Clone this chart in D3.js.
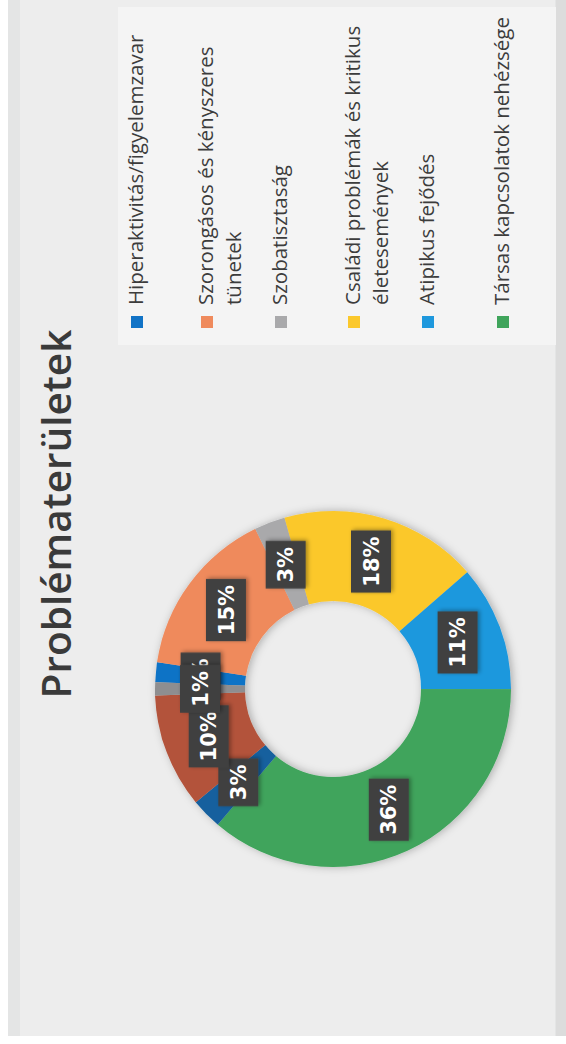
<!DOCTYPE html>
<html>
<head>
<meta charset="utf-8">
<script src="https://cdn.jsdelivr.net/npm/d3@7"></script>
<style>
  html, body { margin: 0; padding: 0; background: #ffffff; }
  svg { display: block; }
</style>
</head>
<body>
<svg id="chart" width="566" height="1044"></svg>
<script>
// ---- data ----
const title = "Problématerületek";
const categories = [
  "Hiperaktivitás/figyelemzavar",
  "Szorongásos és kényszeres tünetek",
  "Szobatisztaság",
  "Családi problémák és kritikus életesemények",
  "Atipikus fejődés",
  "Társas kapcsolatok nehézsége",
  "Egyéb 1",
  "Egyéb 2",
  "Egyéb 3"
];
const values = [1.8, 15.4, 2.8, 18.0, 11.4, 36.2, 2.8, 10.4, 1.2];
const valueLabels = ["1%", "15%", "3%", "18%", "11%", "36%", "3%", "10%", "1%"];
const colors = ["#1173c6", "#ef8a5c", "#a9a9ab", "#fbc82c", "#1e98dd", "#3fa45b", "#15609e", "#b3523a", "#8e8e90"];
const legendLines = [
  ["Hiperaktivitás/figyelemzavar"],
  ["Szorongásos és kényszeres", "tünetek"],
  ["Szobatisztaság"],
  ["Családi problémák és kritikus", "életesemények"],
  ["Atipikus fejődés"],
  ["Társas kapcsolatok nehézsége"]
];

// ---- layout (original, unrotated slide coordinates) ----
const W = 1044, H = 566;
const svg = d3.select("#chart");

const defs = svg.append("defs");
const sh = defs.append("filter").attr("id", "shadow").attr("x", "-20%").attr("y", "-20%").attr("width", "140%").attr("height", "140%");
sh.append("feDropShadow").attr("dx", 0).attr("dy", 2).attr("stdDeviation", 4).attr("flood-color", "#000").attr("flood-opacity", 0.28);
const sh2 = defs.append("filter").attr("id", "boxshadow").attr("x", "-30%").attr("y", "-30%").attr("width", "160%").attr("height", "160%");
sh2.append("feDropShadow").attr("dx", 1).attr("dy", 2).attr("stdDeviation", 2).attr("flood-color", "#000").attr("flood-opacity", 0.35);

const g = svg.append("g").attr("transform", `translate(0,${W}) rotate(-90)`);

// background (photo of slide)
g.append("rect").attr("x", 0).attr("y", 0).attr("width", W).attr("height", H).attr("fill", "#ffffff");
g.append("rect").attr("x", 8).attr("y", 8).attr("width", W - 8).attr("height", H - 8).attr("fill", "#e4e5e5");
g.append("rect").attr("x", 8).attr("y", 20).attr("width", W - 8).attr("height", 535).attr("fill", "#ededed");
g.append("rect").attr("x", 699).attr("y", 118).attr("width", 338).attr("height", 440).attr("fill", "#f4f4f4");
g.append("rect").attr("x", 8).attr("y", 556).attr("width", W - 8).attr("height", 10).attr("fill", "#dcdcdc");

// title
g.append("text")
  .attr("x", 530).attr("y", 71)
  .attr("text-anchor", "middle")
  .attr("font-family", "'Open Sans', sans-serif")
  .attr("font-weight", 600)
  .attr("font-size", 40.5)
  .attr("fill", "#3a3a3a")
  .text(title);

// donut
const cx = 355, cy = 333, R = 178, r0 = 88;
const startDeg = 2.2;
const pie = d3.pie().sort(null).value(d => d)
  .startAngle(startDeg * Math.PI / 180)
  .endAngle((startDeg + 360) * Math.PI / 180);
const arcs = pie(values);
const arc = d3.arc().innerRadius(r0).outerRadius(R);

const dg = g.append("g").attr("transform", `translate(${cx},${cy})`);
dg.append("g").attr("filter", "url(#shadow)")
  .selectAll("path").data(arcs).join("path")
  .attr("d", arc)
  .attr("fill", (d, i) => colors[i]);

// data labels
const lg = dg.append("g");
arcs.forEach((d, i) => {
  const [x, y] = arc.centroid(d);
  const grp = lg.append("g").attr("transform", `translate(${x},${y})`);
  const rect = grp.append("rect").attr("fill", "#414141").attr("filter", "url(#boxshadow)");
  const t = grp.append("text")
    .attr("text-anchor", "middle")
    .attr("dy", "0.36em")
    .attr("font-family", "'DejaVu Sans', sans-serif")
    .attr("font-weight", "bold")
    .attr("font-size", 21)
    .attr("fill", "#ffffff")
    .text(valueLabels[i]);
  const w = t.node().getComputedTextLength() + 12;
  const h = 40;
  rect.attr("x", -w / 2).attr("y", -h / 2).attr("width", w).attr("height", h);
});

// legend
const legX = 716, textX = 739;
const legY = [143, 213, 287, 360, 434, 509];
const leg = g.append("g");
legendLines.forEach((lines, i) => {
  leg.append("rect")
    .attr("x", legX).attr("y", legY[i] - 12)
    .attr("width", 12).attr("height", 12)
    .attr("fill", colors[i]);
  lines.forEach((ln, j) => {
    leg.append("text")
      .attr("x", textX).attr("y", legY[i] + j * 28)
      .attr("font-family", "'Open Sans', sans-serif")
      .attr("font-size", 20.5)
      .attr("fill", "#3c3c3c")
      .text(ln);
  });
});
</script>
</body>
</html>
